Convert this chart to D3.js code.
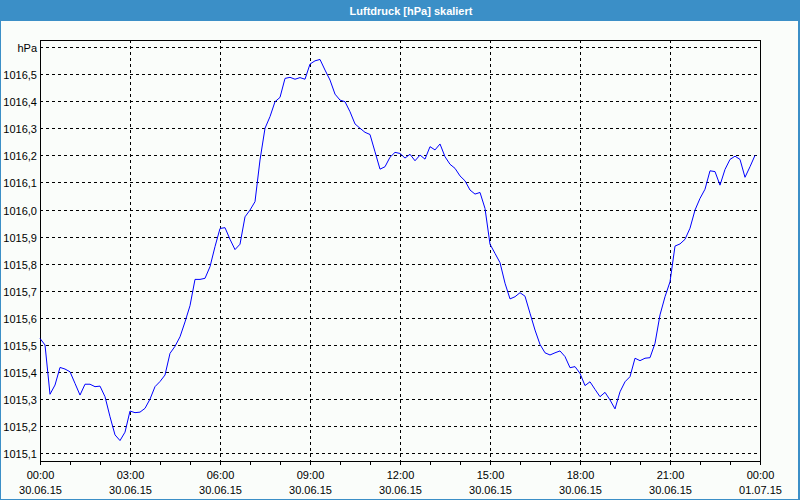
<!DOCTYPE html>
<html>
<head>
<meta charset="utf-8">
<script src="https://cdn.jsdelivr.net/npm/d3@7"></script>
<style>
  html, body { margin: 0; padding: 0; background: #fafdfa; }
  svg { display: block; }
  text { font-family: "Liberation Sans", Arial, sans-serif; }
</style>
</head>
<body>
<svg id="chart" width="800" height="500"></svg>
<script>
// ---- data ----
const title = "Luftdruck [hPa] skaliert";
const unitLabel = "hPa";
// sample times in hours since 30.06.15 00:00 (10-minute readings)
const stepMinutes = 10;
// air pressure values (hPa), one per 10 minutes
const pressure = [
  1015.524, 1015.500, 1015.318, 1015.352, 1015.417, 1015.411, 1015.401, 1015.358, 1015.315, 1015.355,
  1015.355, 1015.346, 1015.348, 1015.309, 1015.235, 1015.168, 1015.147, 1015.178, 1015.256, 1015.250,
  1015.252, 1015.266, 1015.300, 1015.346, 1015.365, 1015.389, 1015.469, 1015.495, 1015.530, 1015.585,
  1015.645, 1015.742, 1015.742, 1015.746, 1015.789, 1015.863, 1015.930, 1015.933, 1015.890, 1015.852,
  1015.872, 1015.973, 1015.998, 1016.029, 1016.183, 1016.300, 1016.343, 1016.398, 1016.414, 1016.484,
  1016.488, 1016.481, 1016.487, 1016.481, 1016.537, 1016.549, 1016.554, 1016.515, 1016.478, 1016.426,
  1016.404, 1016.398, 1016.361, 1016.316, 1016.300, 1016.285, 1016.277, 1016.213, 1016.149, 1016.158,
  1016.193, 1016.211, 1016.207, 1016.190, 1016.204, 1016.180, 1016.201, 1016.186, 1016.232, 1016.220,
  1016.242, 1016.195, 1016.167, 1016.152, 1016.124, 1016.106, 1016.072, 1016.057, 1016.063, 1016.004,
  1015.872, 1015.838, 1015.804, 1015.728, 1015.670, 1015.678, 1015.693, 1015.680, 1015.617, 1015.555,
  1015.502, 1015.471, 1015.463, 1015.471, 1015.478, 1015.457, 1015.416, 1015.420, 1015.395, 1015.350,
  1015.364, 1015.336, 1015.309, 1015.325, 1015.297, 1015.264, 1015.327, 1015.364, 1015.383, 1015.451,
  1015.442, 1015.451, 1015.453, 1015.506, 1015.611, 1015.678, 1015.733, 1015.865, 1015.873, 1015.890,
  1015.931, 1015.998, 1016.041, 1016.075, 1016.143, 1016.140, 1016.090, 1016.148, 1016.185, 1016.197,
  1016.185, 1016.119, 1016.158, 1016.200
];
// y tick values and labels (top gridline carries the unit label)
const yTicks = [1015.1, 1015.2, 1015.3, 1015.4, 1015.5, 1015.6, 1015.7, 1015.8, 1015.9,
                1016.0, 1016.1, 1016.2, 1016.3, 1016.4, 1016.5, 1016.6];
const yTickLabels = ["1015,1", "1015,2", "1015,3", "1015,4", "1015,5", "1015,6", "1015,7", "1015,8", "1015,9",
                     "1016,0", "1016,1", "1016,2", "1016,3", "1016,4", "1016,5", "hPa"];
// x major ticks (hours) and their two-line labels
const xMajor = [0, 3, 6, 9, 12, 15, 18, 21, 24];
const xTimeLabels = ["00:00", "03:00", "06:00", "09:00", "12:00", "15:00", "18:00", "21:00", "00:00"];
const xDateLabels = ["30.06.15", "30.06.15", "30.06.15", "30.06.15", "30.06.15", "30.06.15", "30.06.15", "30.06.15", "01.07.15"];
const xMinor = d3.range(0, 25, 1);

// ---- layout ----
const W = 800, H = 500;
const plot = { left: 40, right: 760, top: 40, bottom: 461 };
const blue = "#3b8fc7";

const svg = d3.select("#chart");

// background & window frame
svg.append("rect").attr("x", 0).attr("y", 0).attr("width", W).attr("height", H).attr("fill", "#fafdfa");
svg.append("rect").attr("x", 0).attr("y", 0).attr("width", W).attr("height", 21).attr("fill", blue);
svg.append("rect").attr("x", 0.5).attr("y", 0.5).attr("width", W - 1).attr("height", H - 1)
  .attr("fill", "none").attr("stroke", blue).attr("stroke-width", 1);
svg.append("rect").attr("x", 798).attr("y", 0).attr("width", 2).attr("height", H).attr("fill", blue);
svg.append("text").attr("x", 411).attr("y", 15).attr("text-anchor", "middle")
  .attr("fill", "#ffffff").attr("font-weight", "bold").attr("font-size", "11px").text(title);

// scales
const x = d3.scaleLinear().domain([0, 24]).range([plot.left, plot.right]);
const y = d3.scaleLinear().domain([1015.1, 1016.6]).range([453.3, 47]);

// horizontal dashed gridlines
svg.append("g").selectAll("line").data(yTicks).join("line")
  .attr("x1", plot.left).attr("x2", plot.right)
  .attr("y1", d => Math.round(y(d)) + 0.5).attr("y2", d => Math.round(y(d)) + 0.5)
  .attr("stroke", "#000").attr("stroke-width", 1).attr("stroke-dasharray", "3,3")
  .attr("shape-rendering", "crispEdges");

// vertical dashed gridlines
svg.append("g").selectAll("line").data(xMajor.filter(h => h > 0 && h < 24)).join("line")
  .attr("x1", d => Math.round(x(d)) + 0.5).attr("x2", d => Math.round(x(d)) + 0.5)
  .attr("y1", plot.top).attr("y2", plot.bottom)
  .attr("stroke", "#000").attr("stroke-width", 1).attr("stroke-dasharray", "3,3")
  .attr("shape-rendering", "crispEdges");

// plot frame
svg.append("rect").attr("x", plot.left + 0.5).attr("y", plot.top + 0.5)
  .attr("width", plot.right - plot.left).attr("height", plot.bottom - plot.top)
  .attr("fill", "none").attr("stroke", "#000").attr("stroke-width", 1)
  .attr("shape-rendering", "crispEdges");

// x axis ticks (hourly)
svg.append("g").selectAll("line").data(xMinor).join("line")
  .attr("x1", d => Math.round(x(d)) + 0.5).attr("x2", d => Math.round(x(d)) + 0.5)
  .attr("y1", plot.bottom).attr("y2", plot.bottom + 4)
  .attr("stroke", "#000").attr("shape-rendering", "crispEdges");

// x labels
const xl = svg.append("g").attr("font-size", "11px").attr("fill", "#000").attr("text-anchor", "middle");
xl.selectAll("text.t").data(xMajor).join("text").attr("class", "t")
  .attr("x", d => x(d) + 0.5).attr("y", 479).text((d, i) => xTimeLabels[i]);
xl.selectAll("text.d").data(xMajor).join("text").attr("class", "d")
  .attr("x", d => x(d) + 0.5).attr("y", 494).text((d, i) => xDateLabels[i]);

// y labels
svg.append("g").attr("font-size", "11px").attr("fill", "#000").attr("text-anchor", "end")
  .selectAll("text").data(yTicks).join("text")
  .attr("x", 37).attr("y", d => Math.round(y(d)) + 4.5).text((d, i) => yTickLabels[i]);

// data line
const series = pressure.map((v, i) => ({ t: i * stepMinutes / 60, v }));
const line = d3.line().x(d => x(d.t)).y(d => y(d.v));
svg.append("path").datum(series).attr("d", line)
  .attr("fill", "none").attr("stroke", "#0000ff").attr("stroke-width", 1);
</script>
</body>
</html>
